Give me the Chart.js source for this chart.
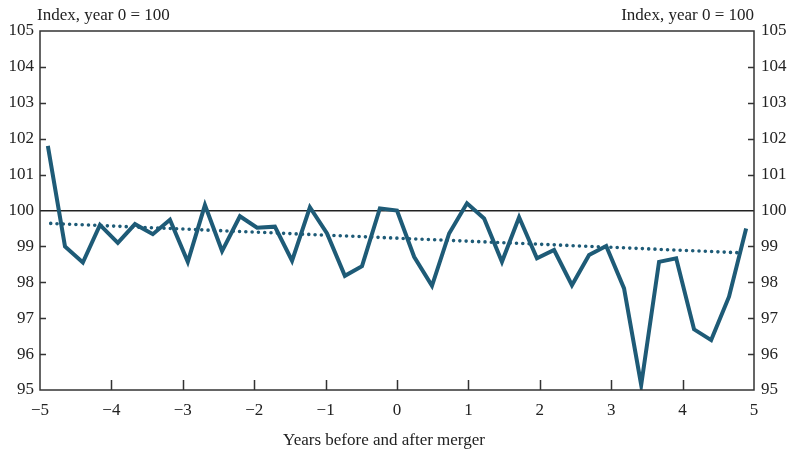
<!DOCTYPE html>
<html>
<head>
<script src="https://cdn.jsdelivr.net/npm/chart.js@4"></script>
<style>
  body { margin: 0; background: #fff; }
  #wrap { width: 791px; height: 452px; }
</style>
</head>
<body>
<div id="wrap"><canvas id="chart" width="791" height="452"></canvas></div>
<script>
// years relative to merger (quarterly-ish points)
const years = [-4.89, -4.65, -4.40, -4.16, -3.91, -3.67, -3.42, -3.18, -2.93, -2.69,
  -2.45, -2.20, -1.96, -1.71, -1.47, -1.22, -0.98, -0.73, -0.49, -0.24,
  0, 0.24, 0.49, 0.73, 0.98, 1.22, 1.47, 1.71, 1.96, 2.20,
  2.45, 2.69, 2.93, 3.18, 3.42, 3.67, 3.91, 4.16, 4.40, 4.65, 4.89];
const index = [101.8, 99.0, 98.55, 99.6, 99.1, 99.62, 99.34, 99.74, 98.57, 100.15,
  98.87, 99.84, 99.52, 99.55, 98.6, 100.09, 99.36, 98.18, 98.45, 100.06,
  100.0, 98.71, 97.9, 99.36, 100.2, 99.78, 98.57, 99.81, 98.67, 98.9,
  97.92, 98.76, 99.01, 97.83, 95.14, 98.57, 98.67, 96.69, 96.39, 97.6, 99.5];
const trendYears = [-4.85, 4.83];
const trendValues = [99.64, 98.82];
const xTicks = [-5, -4, -3, -2, -1, 0, 1, 2, 3, 4, 5];
const yTicks = [95, 96, 97, 98, 99, 100, 101, 102, 103, 104, 105];

const lineColor = 'rgb(30,91,119)';
const font = { family: 'Liberation Serif', size: 17 };

const innerTicks = {
  id: 'innerTicks',
  afterDatasetsDraw(chart) {
    const { ctx, chartArea: a, scales } = chart;
    ctx.save();
    ctx.strokeStyle = '#333';
    ctx.lineWidth = 1.5;
    ctx.beginPath();
    xTicks.slice(1, -1).forEach(v => {
      const px = Math.round(scales.x.getPixelForValue(v)) + 0.5;
      ctx.moveTo(px, a.bottom); ctx.lineTo(px, a.bottom - 10);
    });
    yTicks.slice(1, -1).forEach(v => {
      if (v === 100) return;
      const py = Math.round(scales.y.getPixelForValue(v)) + 0.5;
      ctx.moveTo(a.left, py); ctx.lineTo(a.left + 6, py);
      ctx.moveTo(a.right, py); ctx.lineTo(a.right - 6, py);
    });
    ctx.stroke();
    ctx.strokeRect(a.left, a.top, a.right - a.left, a.bottom - a.top);
    ctx.fillStyle = '#222';
    ctx.font = '17px "Liberation Serif"';
    ctx.textBaseline = 'alphabetic';
    ctx.textAlign = 'left';
    ctx.fillText('Index, year 0 = 100', 37, 20);
    ctx.textAlign = 'right';
    ctx.fillText('Index, year 0 = 100', 754, 20);
    ctx.textAlign = 'center';
    ctx.fillText('Years before and after merger', 384, 445);
    ctx.restore();
  }
};

new Chart(document.getElementById('chart'), {
  type: 'line',
  data: {
    datasets: [
      {
        data: years.map((x, i) => ({ x, y: index[i] })),
        borderColor: lineColor,
        borderWidth: 4,
        borderJoinStyle: 'miter',
        pointRadius: 0,
        tension: 0
      },
      {
        data: trendYears.map((x, i) => ({ x, y: trendValues[i] })),
        borderColor: lineColor,
        borderWidth: 3.6,
        borderDash: [0, 6.3],
        borderCapStyle: 'round',
        pointRadius: 0
      }
    ]
  },
  options: {
    responsive: false,
    animation: false,
    layout: { padding: { top: 31, left: 0, right: 0, bottom: 0 } },
    plugins: { legend: { display: false }, tooltip: { enabled: false } },
    scales: {
      x: {
        type: 'linear', min: -5, max: 5,
        afterBuildTicks: s => { s.ticks = xTicks.map(v => ({ value: v })); },
        afterFit: s => { s.height = 62; },
        grid: { display: false, drawTicks: false },
        border: { display: false },
        ticks: {
          font, color: '#222', padding: 10,
          callback: v => v < 0 ? '\u2212' + Math.abs(v) : String(v)
        }
      },
      y: {
        position: 'left', min: 95, max: 105,
        afterBuildTicks: s => { s.ticks = yTicks.map(v => ({ value: v })); },
        afterFit: s => { s.width = 40; },
        grid: {
          drawTicks: false,
          color: c => c.tick && c.tick.value === 100 ? '#222' : 'rgba(0,0,0,0)',
          lineWidth: 1.5
        },
        border: { display: false },
        ticks: { font, color: '#222', padding: 6 }
      },
      y2: {
        position: 'right', min: 95, max: 105,
        afterBuildTicks: s => { s.ticks = yTicks.map(v => ({ value: v })); },
        afterFit: s => { s.width = 37; },
        grid: { display: false, drawTicks: false },
        border: { display: false },
        ticks: { font, color: '#222', padding: 7 }
      }
    }
  },
  plugins: [innerTicks]
});
</script>
</body>
</html>
